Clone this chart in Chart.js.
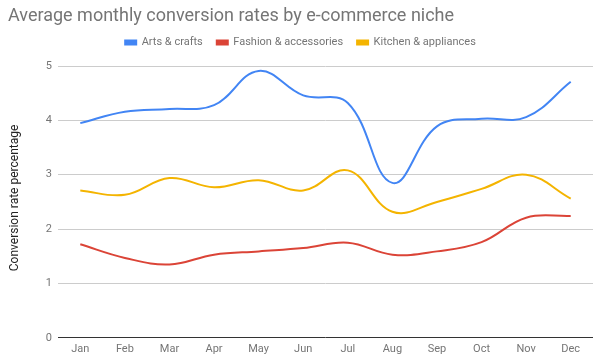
<!DOCTYPE html>
<html>
<head>
<meta charset="utf-8">
<script src="https://cdn.jsdelivr.net/npm/chart.js@4"></script>
<style>
html,body{margin:0;padding:0;background:#fff;}
#wrap{width:597px;height:362px;}
</style>
</head>
<body>
<div id="wrap"><canvas id="c" width="597" height="362"></canvas></div>
<script>
const months = ['Jan','Feb','Mar','Apr','May','Jun','Jul','Aug','Sep','Oct','Nov','Dec'];
const artsCrafts = [3.95, 4.16, 4.21, 4.28, 4.91, 4.46, 4.32, 2.85, 3.89, 4.03, 4.06, 4.71];
const fashionAccessories = [1.72, 1.47, 1.35, 1.53, 1.59, 1.65, 1.75, 1.53, 1.59, 1.76, 2.21, 2.24];
const kitchenAppliances = [2.71, 2.63, 2.94, 2.77, 2.90, 2.71, 3.08, 2.32, 2.50, 2.74, 3.00, 2.56];
const yTicks = [0, 1, 2, 3, 4, 5];

const FONT = 'Roboto, "Noto Sans", Arial, sans-serif';

function ds(label, data, color) {
  return {label, data, borderColor: color, backgroundColor: color, borderWidth: 2,
    pointRadius: 0, pointHoverRadius: 0, tension: 0.4, fill: false};
}

new Chart(document.getElementById('c'), {
  type: 'line',
  data: {
    labels: months,
    datasets: [
      ds('Arts & crafts', artsCrafts, '#4285f4'),
      ds('Fashion & accessories', fashionAccessories, '#db4437'),
      ds('Kitchen & appliances', kitchenAppliances, '#f4b400')
    ]
  },
  options: {
    responsive: false,
    animation: false,
    layout: {padding: {left: 8, right: 4, top: 0, bottom: 1}},
    plugins: {
      title: {display: true, text: 'Average monthly conversion rates by e-commerce niche',
        align: 'start', color: '#757575', font: {family: FONT, size: 18, weight: 'normal'},
        padding: {top: 6, bottom: -4.5}},
      legend: {display: true, position: 'top', align: 'center',
        labels: {boxWidth: 11, boxHeight: 4, padding: 14, color: '#757575',
          font: {family: FONT, size: 11}}},
      tooltip: {enabled: false}
    },
    scales: {
      x: {
        offset: true,
        grid: {display: false, drawTicks: false},
        border: {display: false},
        ticks: {color: '#757575', font: {family: FONT, size: 11}, padding: 5, maxRotation: 0}
      },
      y: {
        min: 0, max: 5.146,
        afterBuildTicks: (s) => { s.ticks = yTicks.map(v => ({value: v})); },
        afterFit: (s) => { s.width = 50; },
        grid: {drawTicks: false, color: (ctx) => ctx.tick && ctx.tick.value === 0 ? '#333333' : '#cccccc', lineWidth: 1},
        border: {display: false},
        ticks: {color: '#757575', font: {family: FONT, size: 11}, padding: 6},
        title: {display: true, text: 'Conversion rate percentage', color: '#222222',
          font: {family: FONT, size: 12}, padding: {top: 0, bottom: 0}}
      }
    }
  }
});
</script>
</body>
</html>
